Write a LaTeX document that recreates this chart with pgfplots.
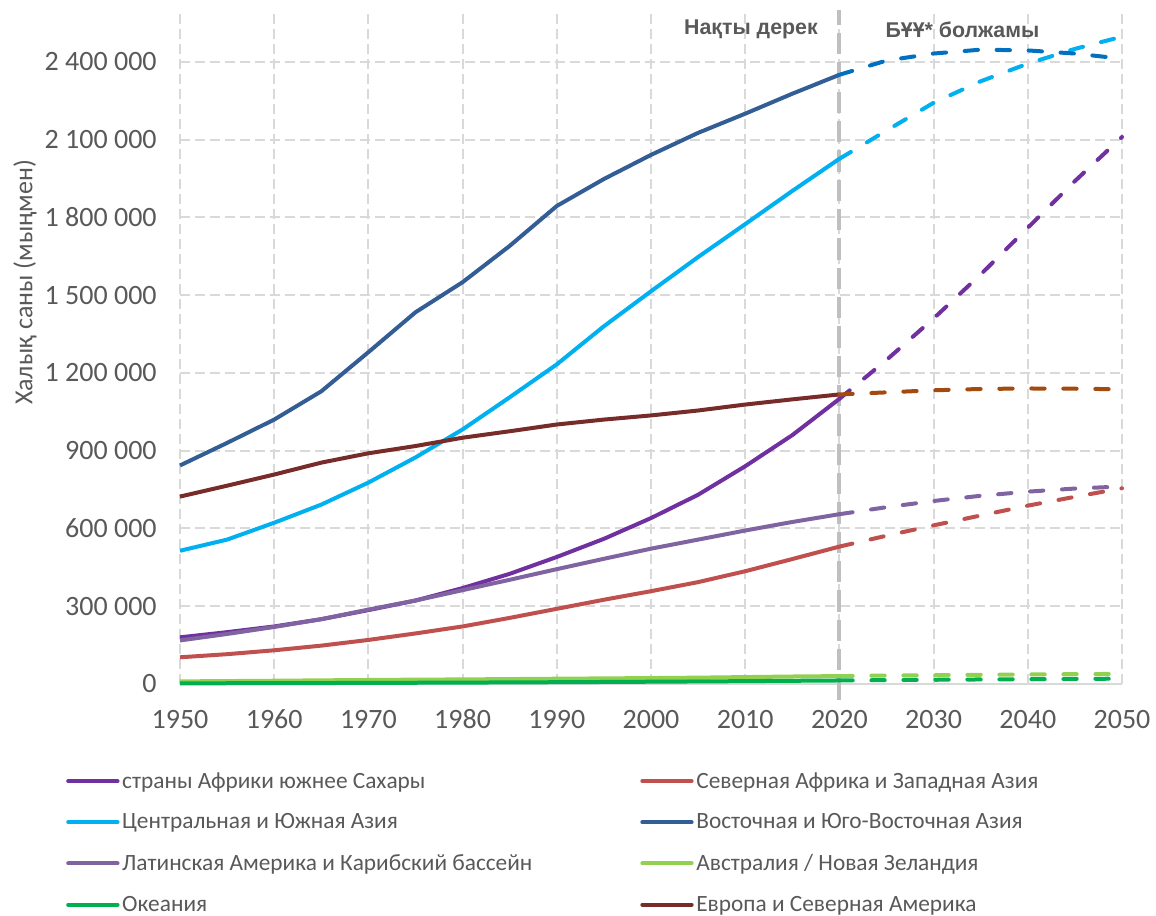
\documentclass[border=0pt]{standalone}
\usepackage{fontspec}
\setmainfont{Carlito}
\newfontfamily\annfont{Liberation Sans}
\usepackage{pgfplots}
\pgfplotsset{compat=1.18}
\definecolor{txt}{HTML}{595959}
\definecolor{gridc}{HTML}{D9D9D9}
\definecolor{divc}{HTML}{BFBFBF}
\definecolor{cssa}{HTML}{7030A0}
\definecolor{cnawa}{HTML}{C0504D}
\definecolor{ccsa}{HTML}{00B0F0}
\definecolor{cesea}{HTML}{335D95}
\definecolor{cesead}{HTML}{0070C0}
\definecolor{clat}{HTML}{8064A2}
\definecolor{canz}{HTML}{92D050}
\definecolor{coce}{HTML}{00B050}
\definecolor{ceu}{HTML}{772C2A}
\definecolor{ceud}{HTML}{A34A0F}
\tikzset{proj/.style={line cap=round, dash pattern=on 10pt off 14pt}}
\begin{document}
\begin{tikzpicture}
\begin{axis}[
  at={(0,0)}, anchor=south west,
  scale only axis, width=706.5pt, height=505.5pt,
  xmin=1950, xmax=2050, ymin=0, ymax=2600000,
  clip=false,
  axis line style={draw=none},
  xtick={1950,1960,...,2050},
  xticklabels={1950,1960,1970,1980,1990,2000,2010,2020,2030,2040,2050},
  ytick={0,300000,600000,900000,1200000,1500000,1800000,2100000,2400000},
  yticklabels={0,300 000,600 000,900 000,1 200 000,1 500 000,1 800 000,2 100 000,2 400 000},
  scaled y ticks=false,
  tick style={draw=none},
  major tick length=0pt,
  xmajorgrids, ymajorgrids,
  major grid style={gridc, line width=1.5pt, dash pattern=on 7.5pt off 3.75pt},
  xticklabel style={font=\fontsize{21}{24}\selectfont, text=txt, text height=14pt, text depth=0pt, yshift=-16pt},
  yticklabel style={font=\fontsize{21}{24}\selectfont, text=txt, xshift=-14pt},
  ylabel={Халық саны (мыңмен)},
  every axis y label/.style={at={(axis description cs:-0.1645,0.596)}, rotate=90, anchor=center,
    font=\fontsize{19.5}{22}\selectfont, text=txt},
  legend columns=2,
  legend cell align=left,
  legend style={draw=none, fill=none, at={(axis description cs:-0.1253,-0.1246)}, anchor=north west,
    font=\fontsize{17.5}{20}\selectfont, text=txt, row sep=15.7pt,
    nodes={inner ysep=1pt},
    /tikz/every even column/.append style={column sep=79pt}},
  legend image code/.code={\draw[#1,line cap=round,solid] (0pt,0pt) -- (37pt,0pt);},
  every axis plot/.append style={line width=3pt, line join=round},
]
\draw[gridc, line width=1.5pt] (axis cs:1950,0) -- (axis cs:2050,0);
\draw[divc, line width=3pt, dash pattern=on 16pt off 6pt] (axis cs:2020,-60000) -- (axis cs:2020,2600000);
\node[anchor=east, font=\annfont\bfseries\fontsize{16}{19}\selectfont, text=txt] at (axis cs:2018.2,2525000) {Нақты дерек};
\node[anchor=west, font=\annfont\bfseries\fontsize{16}{19}\selectfont, text=txt] at (axis cs:2024.4,2525000) {БҰҰ* болжамы};

% actual data
\addplot[cssa] coordinates {(1950,180000)(1955,200000)(1960,222000)(1965,250000)(1970,285000)(1975,322000)(1980,370000)(1985,425000)(1990,490000)(1995,560000)(2000,640000)(2005,730000)(2010,840000)(2015,960000)(2020,1100000)};
\addlegendentry{страны Африки южнее Сахары}
\addplot[cnawa] coordinates {(1950,103000)(1955,115000)(1960,130000)(1965,148000)(1970,170000)(1975,195000)(1980,222000)(1985,255000)(1990,290000)(1995,325000)(2000,358000)(2005,393000)(2010,435000)(2015,482000)(2020,530000)};
\addlegendentry{Северная Африка и Западная Азия}
\addplot[ccsa] coordinates {(1950,514000)(1955,557000)(1960,622000)(1965,692000)(1970,777000)(1975,874000)(1980,982000)(1985,1106000)(1990,1233000)(1995,1380000)(2000,1515000)(2005,1647000)(2010,1774000)(2015,1902000)(2020,2026000)};
\addlegendentry{Центральная и Южная Азия}
\addplot[cesea] coordinates {(1950,843000)(1955,930000)(1960,1020000)(1965,1129000)(1970,1280000)(1975,1434000)(1980,1550000)(1985,1690000)(1990,1844000)(1995,1948000)(2000,2041000)(2005,2126000)(2010,2200000)(2015,2277000)(2020,2350000)};
\addlegendentry{Восточная и Юго-Восточная Азия}
\addplot[clat] coordinates {(1950,168000)(1955,193000)(1960,220000)(1965,250000)(1970,287000)(1975,322000)(1980,362000)(1985,402000)(1990,443000)(1995,483000)(2000,522000)(2005,557000)(2010,592000)(2015,625000)(2020,655000)};
\addlegendentry{Латинская Америка и Карибский бассейн}
\addplot[canz] coordinates {(1950,10100)(1955,11300)(1960,12600)(1965,14100)(1970,15500)(1975,16800)(1980,17700)(1985,19000)(1990,20400)(1995,21600)(2000,22900)(2005,24500)(2010,26700)(2015,28900)(2020,30500)};
\addlegendentry{Австралия / Новая Зеландия}
\addplot[coce] coordinates {(1950,2600)(1955,2900)(1960,3300)(1965,3700)(1970,4200)(1975,4800)(1980,5400)(1985,6100)(1990,6900)(1995,7800)(2000,8800)(2005,9900)(2010,11000)(2015,12300)(2020,13600)};
\addlegendentry{Океания}
\addplot[ceu] coordinates {(1950,723000)(1955,765000)(1960,808000)(1965,854000)(1970,890000)(1975,918000)(1980,950000)(1985,975000)(1990,1001000)(1995,1020000)(2000,1036000)(2005,1055000)(2010,1078000)(2015,1098000)(2020,1117000)};
\addlegendentry{Европа и Северная Америка}

% projections
\addplot[cssa, proj, forget plot] coordinates {(2020,1100000)(2025,1250000)(2030,1410000)(2035,1580000)(2040,1760000)(2045,1940000)(2050,2110000)};
\addplot[cnawa, proj, forget plot] coordinates {(2020,530000)(2025,572000)(2030,612000)(2035,650000)(2040,688000)(2045,722000)(2050,755000)};
\addplot[ccsa, proj, forget plot] coordinates {(2020,2026000)(2025,2135000)(2030,2242000)(2035,2325000)(2040,2393000)(2045,2450000)(2050,2497000)};
\addplot[cesead, proj, forget plot] coordinates {(2020,2350000)(2025,2405000)(2030,2432000)(2035,2447000)(2040,2444000)(2045,2432000)(2050,2412000)};
\addplot[clat, proj, forget plot] coordinates {(2020,655000)(2025,682000)(2030,706000)(2035,726000)(2040,742000)(2045,754000)(2050,762000)};
\addplot[canz, proj, forget plot] coordinates {(2020,30500)(2025,32500)(2030,34000)(2035,35500)(2040,36800)(2045,38000)(2050,39000)};
\addplot[coce, proj, forget plot] coordinates {(2020,13600)(2025,15000)(2030,16300)(2035,17500)(2040,18600)(2045,19600)(2050,20600)};
\addplot[ceud, proj, forget plot] coordinates {(2020,1117000)(2025,1125000)(2030,1133000)(2035,1138000)(2040,1140000)(2045,1139000)(2050,1137000)};
\end{axis}
\pgfresetboundingbox
\useasboundingbox (-135pt,-174pt) rectangle (732pt,513pt);
\end{tikzpicture}
\end{document}
